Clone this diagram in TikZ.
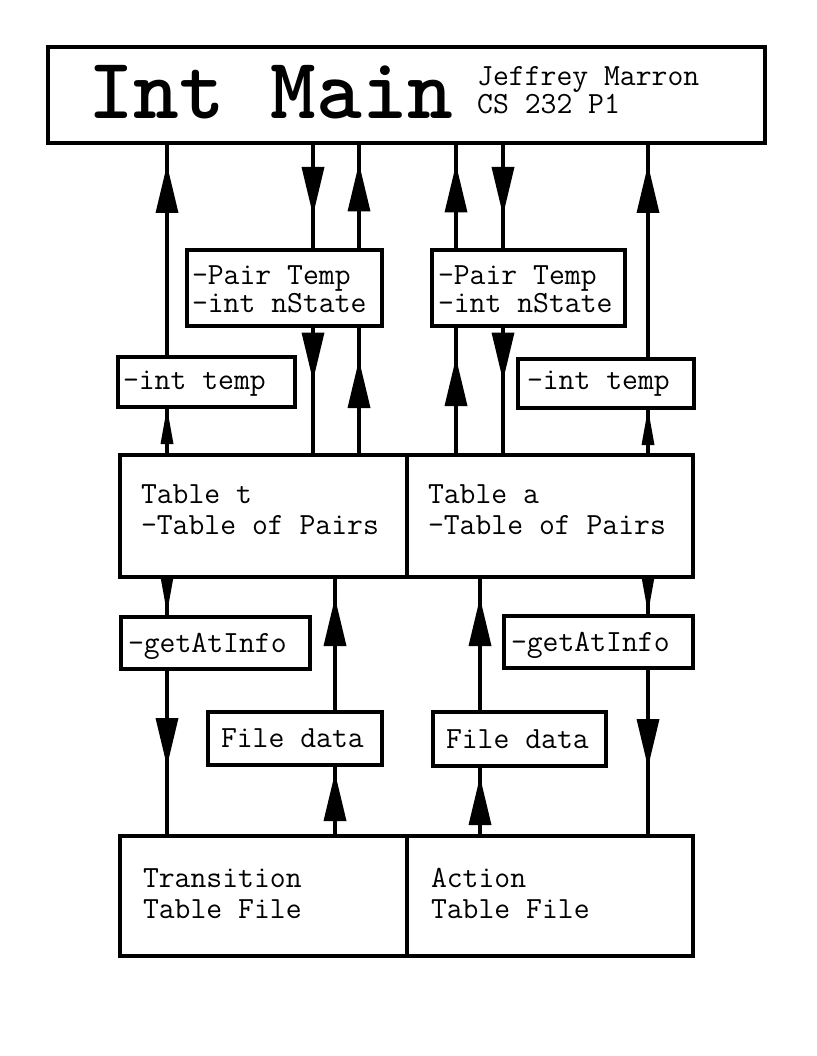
\documentclass[tikz,border=0pt]{standalone}
\usetikzlibrary{arrows.meta,decorations.markings}

% struts to move a text block inside its box
\newcommand\down[1]{\rule{0pt}{#1}}
\newcommand\up[1]{\rule[-#1]{0pt}{0pt}}

\tikzset{
  box/.style={draw, line width=4pt, inner sep=0pt, outer sep=0pt, align=flush left,
    font=\ttfamily\fontsize{30.8}{31}\selectfont},
  smallbox/.style={box, font=\ttfamily\fontsize{30.8}{28}\selectfont},
  wire/.style={line width=4pt},
  bighead/.style={decoration={markings, mark=at position #1 with
    {\arrow{Triangle[length=48pt,width=23pt,line width=0pt]}}}, postaction={decorate}},
  smallhead/.style={decoration={markings, mark=at position #1 with
    {\arrow{Triangle[length=36pt,width=13pt,line width=0pt]}}}, postaction={decorate}},
}

\begin{document}
\begin{tikzpicture}[x=1pt,y=-1pt]
  \useasboundingbox (0,0) rectangle (816,1056);

  % Main box
  \node[box, minimum width=717pt, minimum height=96pt] (main) at (406.5,95) {};
  \node[anchor=base west, inner sep=0pt, font=\ttfamily\bfseries\fontsize{87}{87}\selectfont] (title) at (88,119) {Int Main};
  \node[anchor=base west, inner sep=0pt, font=\ttfamily\fontsize{30.8}{26}\selectfont] (author) at (477,86) {Jeffrey Marron};
  \node[anchor=base west, inner sep=0pt, font=\ttfamily\fontsize{30.8}{26}\selectfont] (course) at (477,114) {CS 232 P1};

  % Passed values
  \node[smallbox, minimum width=195pt, minimum height=75pt, text width=185pt] (pl) at (284.5,288) {\down{22pt}-Pair Temp\\-int nState};
  \node[smallbox, minimum width=193pt, minimum height=75pt, text width=181pt] (pr) at (528.5,288) {\down{22pt}-Pair Temp\\-int nState};
  \node[smallbox, minimum width=177pt, minimum height=50pt, text width=167pt] (itl) at (206.5,382) {\down{22pt}-int temp};
  \node[smallbox, minimum width=176pt, minimum height=49pt, text width=158pt] (itr) at (606,383.5) {-int temp};

  % Tables
  \node[box, minimum width=287pt, minimum height=122pt, text width=245pt] (tt) at (263.5,516) {Table t\\-Table of Pairs\up{12pt}};
  \node[box, minimum width=286pt, minimum height=122pt, text width=244pt] (ta) at (550,516) {Table a\\-Table of Pairs\up{12pt}};

  \node[smallbox, minimum width=189pt, minimum height=52pt, text width=175pt] (gl) at (215.5,643) {\down{27pt}-getAtInfo};
  \node[smallbox, minimum width=189pt, minimum height=52pt, text width=175pt] (gr) at (598.5,642) {\down{27pt}-getAtInfo};
  \node[smallbox, minimum width=174pt, minimum height=53pt, text width=148pt] (fl) at (295,738.5) {File data};
  \node[smallbox, minimum width=173pt, minimum height=54pt, text width=147pt] (fr) at (519.5,739) {File data};

  % Files
  \node[box, minimum width=287pt, minimum height=120pt, text width=241pt] (tf) at (263.5,896) {Transition\\Table File\up{5pt}};
  \node[box, minimum width=286pt, minimum height=120pt, text width=238pt] (af) at (550,896) {Action\\Table File\up{5pt}};

  % Connector columns
  \foreach \n/\x in {c1/167, c2/313, c3/359, c4/456, c5/503, c6/648, c7/335, c8/480}
    \coordinate (\n) at (\x,0);

  % Connectors with big heads
  \foreach \c/\a/\b/\p in {c1/itl.north/main.south/192, c2/main.south/pl.north/72,
      c2/pl.south/tt.north/55, c3/pl.north/main.south/87, c3/tt.north/pl.south/95,
      c4/pr.north/main.south/86, c4/ta.north/pr.south/97, c5/main.south/pr.north/72,
      c5/pr.south/ta.north/55, c6/itr.north/main.south/194, c1/gl.south/tf.north/97,
      c7/fl.north/tt.south/114, c7/tf.north/fl.south/63, c8/fr.north/ta.south/114,
      c8/af.north/fr.south/59, c6/gr.south/af.north/99}
    \draw[wire, bighead=\p pt] (\c |- \a) -- (\c |- \b);

  % Connectors with small heads
  \foreach \c/\a/\b/\p in {c1/tt.north/itl.south/47, c6/ta.north/itr.south/46,
      c1/tt.south/gl.north/36, c6/ta.south/gr.north/36}
    \draw[wire, smallhead=\p pt] (\c |- \a) -- (\c |- \b);
\end{tikzpicture}
\end{document}
